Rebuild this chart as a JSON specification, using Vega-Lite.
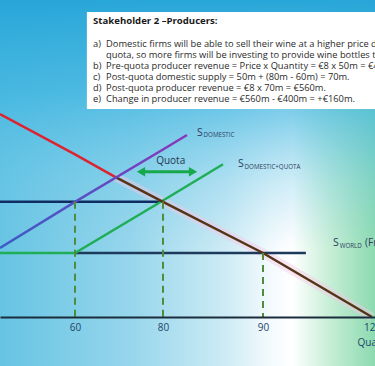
{
"$schema":"https://vega.github.io/schema/vega-lite/v6.json",
"width":375,"height":317,
"autosize":{"type":"none"},
"padding":{"left":0,"top":0,"right":0,"bottom":49},
"background":"#ffffff",
"config":{"view":{"stroke":null},"font":"Open Sans"},
"datasets":{
"bg":[{"q":43,"q2":121.1,"p":-3.83,"p2":24.77}],
"box":[{"q":62.7,"q2":121.1,"p":23.83,"p2":16.25}],
"title":[{"q":64.1,"p":23.16,"txt":"Stakeholder 2 –Producers:"}],
"notes":[
{"q":64.1,"p":21.33,"mk":"a)","txt":"Domestic firms will be able to sell their wine at a higher price due to the"},
{"q":64.1,"p":20.47,"mk":"","txt":"quota, so more firms will be investing to provide wine bottles to the market."},
{"q":64.1,"p":19.61,"mk":"b)","txt":"Pre-quota producer revenue = Price x Quantity = €8 x 50m = €400m."},
{"q":64.1,"p":18.75,"mk":"c)","txt":"Post-quota domestic supply = 50m + (80m - 60m) = 70m."},
{"q":64.1,"p":17.89,"mk":"d)","txt":"Post-quota producer revenue = €8 x 70m = €560m."},
{"q":64.1,"p":17.03,"mk":"e)","txt":"Change in producer revenue = €560m - €400m = +€160m."}
],
"lines":[
{"series":"pq","q":43,"p":9},{"series":"pq","q":60,"p":9},{"series":"pq","q":80,"p":9},
{"series":"pw","q":60,"p":5},{"series":"pw","q":90,"p":5},{"series":"pw","q":101.8,"p":5},
{"series":"green","q":43,"p":5},{"series":"green","q":60,"p":5},{"series":"green","q":80,"p":9.1},{"series":"green","q":86,"p":11.94},
{"series":"red","q":43,"p":15.86},{"series":"red","q":60,"p":12.7},{"series":"red","q":69.1,"p":10.95},
{"series":"brown","q":69.1,"p":10.95},{"series":"brown","q":80,"p":9},{"series":"brown","q":90,"p":5},{"series":"brown","q":120,"p":0}
],
"sdom":[{"q":43,"p":5.39},{"q":60,"p":9},{"q":80,"p":13.09},{"q":82.4,"p":14.22}],
"dashes":[{"q":60,"p":9,"p2":0},{"q":80,"p":9,"p2":0},{"q":90,"p":5,"p2":0}],
"arrow":[{"q":75,"q2":83,"p":11.35}],
"labels":[
{"q":83.4,"p":14.4,"s":"S","sub":"DOMESTIC","extra":""},
{"q":87.5,"p":11.95,"s":"S","sub":"DOMESTIC+QUOTA","extra":""},
{"q":109.3,"p":5.78,"s":"S","sub":"WORLD","extra":"(France)"}
],
"quota":[{"q":80.77,"p":12.19,"txt":"Quota"}]
},
"encoding":{
"x":{"field":"q","type":"quantitative","scale":{"domain":[43,60,80,90,120,121.1],"range":[0,75,163,263,372,375],"zero":false,"nice":false},
"axis":{"values":[60,80,90,120],"zindex":1,"ticks":false,"grid":false,"domainColor":"#1b2d3c","domainWidth":2,"labelColor":"#1d4768","labelFont":"Open Sans","labelFontSize":10,"labelPadding":5,"labelFlush":false,"labelOverlap":false,"labelBound":false,"title":"Quantity (m)","titleFont":"Open Sans","titleFontSize":10,"titleFontWeight":"normal","titleColor":"#1d4768","titleX":357,"titleY":25,"titleAlign":"left","titleBaseline":"middle"}},
"y":{"field":"p","type":"quantitative","scale":{"domain":[0,24.77],"zero":false,"nice":false},"axis":null}
},
"layer":[
{"data":{"name":"bg"},"mark":{"type":"rect","fill":{"gradient":"linear","x1":0,"y1":0,"x2":1,"y2":0,"stops":[{"offset":0,"color":"#66c4e3"},{"offset":0.35,"color":"#97d6ec"},{"offset":0.6,"color":"#cdebf5"},{"offset":0.72,"color":"#f3fafd"},{"offset":0.78,"color":"#ffffff"},{"offset":0.88,"color":"#c6eed6"},{"offset":1,"color":"#8cdab0"}]}},
 "encoding":{"x2":{"field":"q2"},"y2":{"field":"p2"}}},
{"data":{"name":"bg"},"mark":{"type":"rect","fill":{"gradient":"linear","x1":0,"y1":0,"x2":0,"y2":1,"stops":[{"offset":0,"color":"rgba(40,166,216,1)"},{"offset":0.25,"color":"rgba(62,180,224,0.8)"},{"offset":0.5,"color":"rgba(100,196,230,0.3)"},{"offset":0.68,"color":"rgba(120,200,232,0)"},{"offset":1,"color":"rgba(120,200,232,0)"}]}},
 "encoding":{"x2":{"field":"q2"},"y2":{"field":"p2"}}},
{"data":{"name":"box"},"mark":{"type":"rect","fill":"#ffffff"},"encoding":{"x2":{"field":"q2"},"y2":{"field":"p2"}}},
{"data":{"name":"title"},"mark":{"type":"text","align":"left","baseline":"middle","font":"Open Sans","fontSize":9.6,"fontWeight":"bold","color":"#1a1a1a"},"encoding":{"text":{"field":"txt"}}},
{"data":{"name":"notes"},"mark":{"type":"text","align":"left","baseline":"middle","font":"Open Sans","fontSize":9.3,"color":"#2a2a2a"},"encoding":{"text":{"field":"mk"}}},
{"data":{"name":"notes"},"mark":{"type":"text","align":"left","baseline":"middle","font":"Open Sans","fontSize":9.3,"color":"#2a2a2a","dx":13},"encoding":{"text":{"field":"txt"}}},
{"data":{"name":"lines"},"transform":[{"filter":"datum.series==='brown'"}],"mark":{"type":"line","strokeWidth":9,"color":"#f4c8e4","opacity":0.45},"encoding":{}},
{"data":{"name":"lines"},"mark":{"type":"line","strokeWidth":2.5},"encoding":{"color":{"field":"series","type":"nominal","scale":{"domain":["pq","pw","green","red","brown"],"range":["#0f2c63","#1d3a5c","#1fae55","#dc2430","#573418"]},"legend":null}}},
{"data":{"name":"sdom"},"mark":{"type":"line","strokeWidth":2.5,"stroke":{"gradient":"linear","x1":0,"y1":1,"x2":1,"y2":0,"stops":[{"offset":0,"color":"#3b5cc6"},{"offset":0.5,"color":"#5d4ec2"},{"offset":1,"color":"#8a35b9"}]}},"encoding":{}},
{"data":{"name":"dashes"},"mark":{"type":"rule","strokeWidth":2,"strokeDash":[7,5],"color":"#4f8d3a"},"encoding":{"y2":{"field":"p2"}}},
{"data":{"name":"arrow"},"mark":{"type":"rule","strokeWidth":3,"color":"#17a84b"},"encoding":{"x2":{"field":"q2"}}},
{"data":{"values":[{"q":75,"p":11.35}]},"mark":{"type":"point","shape":"triangle-left","filled":true,"size":90,"color":"#17a84b","opacity":1},"encoding":{}},
{"data":{"values":[{"q":83,"p":11.35}]},"mark":{"type":"point","shape":"triangle-right","filled":true,"size":90,"color":"#17a84b","opacity":1},"encoding":{}},
{"data":{"name":"quota"},"mark":{"type":"text","align":"center","baseline":"middle","font":"Open Sans","fontSize":10,"color":"#1f3550"},"encoding":{"text":{"field":"txt"}}},
{"data":{"name":"labels"},"mark":{"type":"text","align":"left","baseline":"middle","font":"Open Sans","fontSize":10.5,"color":"#2d3e5c"},"encoding":{"text":{"field":"s"}}},
{"data":{"name":"labels"},"mark":{"type":"text","align":"left","baseline":"middle","font":"Open Sans","fontSize":6.2,"color":"#2d3e5c","dx":6.6,"dy":2.5},"encoding":{"text":{"field":"sub"}}},
{"data":{"name":"labels"},"mark":{"type":"text","align":"left","baseline":"middle","font":"Open Sans","fontSize":10,"color":"#2d3e5c","dx":32},"encoding":{"text":{"field":"extra"}}}
]
}
